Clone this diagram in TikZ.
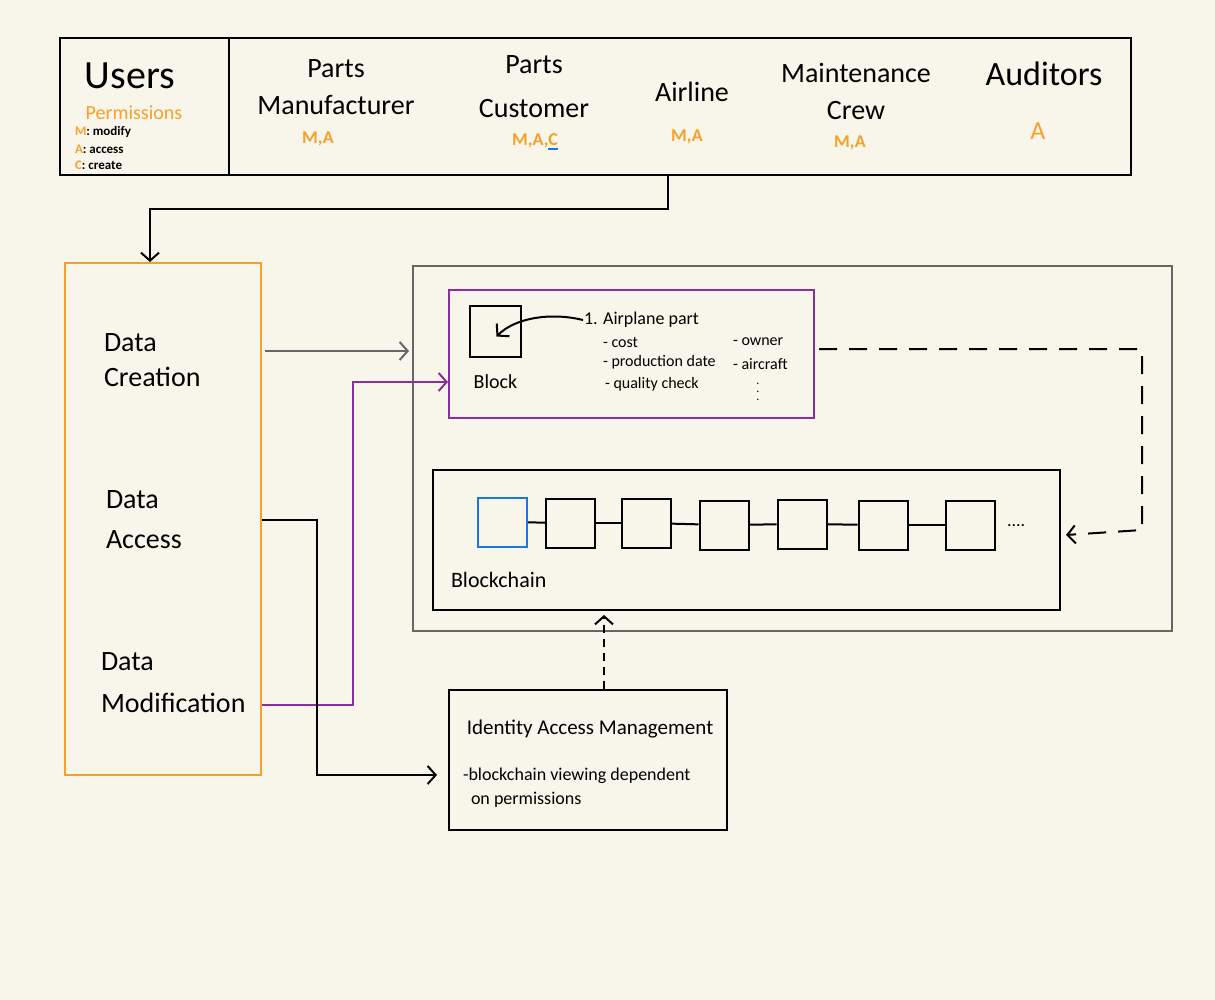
\documentclass[tikz,border=0pt]{standalone}
\usepackage{fontspec}
\setmainfont{Carlito}
\usepackage{xcolor}
\usepackage{tikz}
\usetikzlibrary{arrows.meta}
\usetikzlibrary{positioning}
\usetikzlibrary{calc}

\definecolor{paper}{HTML}{F8F6EA}
\definecolor{permorange}{HTML}{F5A02A}
\definecolor{gatepurple}{HTML}{8A2E98}
\definecolor{framegray}{HTML}{666666}
\definecolor{headblue}{HTML}{1A78E6}
\newcommand{\blueul}[1]{\setbox0\hbox{#1}\rlap{\color{headblue}\rule[-2.5pt]{\wd0}{1pt}}#1}

\begin{document}
\begin{tikzpicture}[x=0.5pt,y=-0.5pt,line width=1pt,
  >={Straight Barb[length=4pt,width=9pt]},
  panel/.style={rectangle, draw=black, inner sep=0pt},
  cell/.style={rectangle, draw=black, inner sep=0pt, minimum size=24.5pt},
  hand/.style={inner sep=0pt, align=center, font=\fontsize{14}{18.5}\selectfont},
  perm/.style={inner sep=0pt, text=permorange, font=\fontsize{9}{10}\selectfont\bfseries},
  note/.style={inner sep=0pt, anchor=west, font=\fontsize{8}{9}\selectfont},
  legend/.style={inner sep=0pt, anchor=west, font=\fontsize{6.5}{7}\selectfont\bfseries}]

  \fill[paper] (0,0) rectangle (1215,1000);
  \useasboundingbox (0,0) rectangle (1215,1000);

  % user roles
  \node[panel, minimum width=535.5pt, minimum height=68.5pt] (roles) at (595.5,106.5) {};
  \draw (229,38) -- (229,175);
  \node[hand, font=\fontsize{20}{22}\selectfont] (users) at (130,76) {Users};
  \node[perm, font=\fontsize{10}{11}\selectfont] (permtitle) at (134,113) {Permissions};
  \node[legend] (legm) at (74,132) {\textcolor{permorange}{M}: modify};
  \node[legend] (lega) at (74,149) {\textcolor{permorange}{A}: access};
  \node[legend] (legc) at (74,165) {\textcolor{permorange}{C}: create};

  \node[hand] (pmfr) at (336,87) {Parts\\Manufacturer};
  \node[perm] (pmfrp) at (318,139) {M,A};
  \node[hand, font=\fontsize{14}{22}\selectfont] (pcust) at (534,87) {Parts\\Customer};
  \node[perm] (pcustp) at (535,142) {M,A,\blueul{C}};
  \node[hand] (airline) at (692,92) {Airline};
  \node[perm] (airlinep) at (687,137) {M,A};
  \node[hand] (crew) at (856,91) {Maintenance\\Crew};
  \node[perm] (crewp) at (850,143) {M,A};
  \node[hand, font=\fontsize{17}{19}\selectfont] (audit) at (1044,74) {Auditors};
  \node[perm, font=\fontsize{13}{14}\selectfont] (auditp) at (1038,131) {A};

  % operations
  \node[panel, draw=permorange, minimum width=98pt, minimum height=256pt] (ops) at (163,519) {};
  \node[hand, align=left, anchor=west, font=\fontsize{14}{17.5}\selectfont] (dcreate) at (103,360) {Data\\Creation};
  \node[hand, align=left, anchor=west, font=\fontsize{14}{20}\selectfont] (dacc) at (105,520) {Data\\Access};
  \node[hand, align=left, anchor=west, font=\fontsize{14}{21}\selectfont] (dmod) at (100,683) {Data\\Modification};

  % ledger
  \node[panel, draw=framegray, minimum width=379.5pt, minimum height=182.5pt] (ledger) at (792.5,448.5) {};
  \node[panel, draw=gatepurple, minimum width=182.5pt, minimum height=64pt] (newblk) at (631.5,354) {};
  \node[cell, minimum size=25.5pt] (blk) at (495.5,331.5) {};
  \node[inner sep=0pt, font=\fontsize{10}{11}\selectfont] (blklbl) [below=8pt of blk] {Block};
  \node[note, font=\fontsize{9}{10}\selectfont] (airtxt) at (583,320) {1. Airplane part};
  \node[note] (fcost) at (602,342) {- cost};
  \node[note] (fdate) at (602,362) {- production date};
  \node[note] (fqual) at (604,384) {- quality check};
  \node[note] (fowner) at (732,342) {- owner};
  \node[note] (fair) at (732,364) {- aircraft};
  \node[inner sep=0pt, anchor=north, font=\fontsize{6}{7}\selectfont] (fmore) at (758,370) {$\vdots$};

  \node[panel, minimum width=313.5pt, minimum height=70pt] (chain) at (746.5,540) {};
  \node[cell, draw=headblue] (c1) at (502.5,522) {};
  \foreach \cx/\cy [count=\i from 2] in {570.5/523, 646/523, 724/525, 802/524, 883/525, 970/525}
    \node[cell] (c\i) at (\cx,\cy) {};
  \foreach \j [remember=\j as \i (initially 1)] in {2,...,7}
    \draw (c\i) -- (c\j);
  \node[note, font=\fontsize{9}{10}\selectfont] (cmore) at (1006,526) {....};
  \node[note, font=\fontsize{11}{12}\selectfont] (chainlbl) at (450,580) {Blockchain};

  % identity access management
  \node[panel, minimum width=139pt, minimum height=70pt] (iam) at (588,760) {};
  \node[inner sep=0pt, font=\fontsize{10.5}{12}\selectfont] (iamtitle) at (590,729) {Identity Access Management};
  \node[note, font=\fontsize{9}{10}\selectfont] (iamnote1) at (462,776) {-blockchain viewing dependent};
  \node[note, font=\fontsize{9}{10}\selectfont] (iamnote2) at (470,800) {on permissions};

  \coordinate (tap) at ($(roles.south)+(72.5,0)$);
  \coordinate (crt) at ($(ops.east)+(3,-168)$);
  \coordinate (acc) at ($(ops.east)+(0,1)$);
  \coordinate (mod) at ($(ops.east)+(0,186)$);
  \coordinate (turn) at (1142,530);

  \draw[->] (tap) -- ++(0,33) -| ($(ops.north)+(-13,0)$);
  \draw[->, framegray] (crt) -- ($(crt -| ledger.west)+(-3,0)$);
  \draw[->, gatepurple] (mod) -- ++(91,0) |- ($(newblk.west)+(0,28)$);
  \draw[->] (acc) -- ++(55,0) |- ($(iam.west)+(-11,15)$);
  \draw[->] (airtxt.west) .. controls (550,312) and (515,318) .. ($(blk.center)+(1,5)$);
  \draw[->, dash pattern=on 9pt off 6pt] ($(newblk.east)+(4,-5)$) -| (turn) -- ($(chain.east)+(5,-5)$);
  \draw[->, dash pattern=on 4pt off 3pt] ($(iam.north)+(16,0)$) -- ($(chain.south)+(-142.5,4)$);

\end{tikzpicture}
\end{document}
